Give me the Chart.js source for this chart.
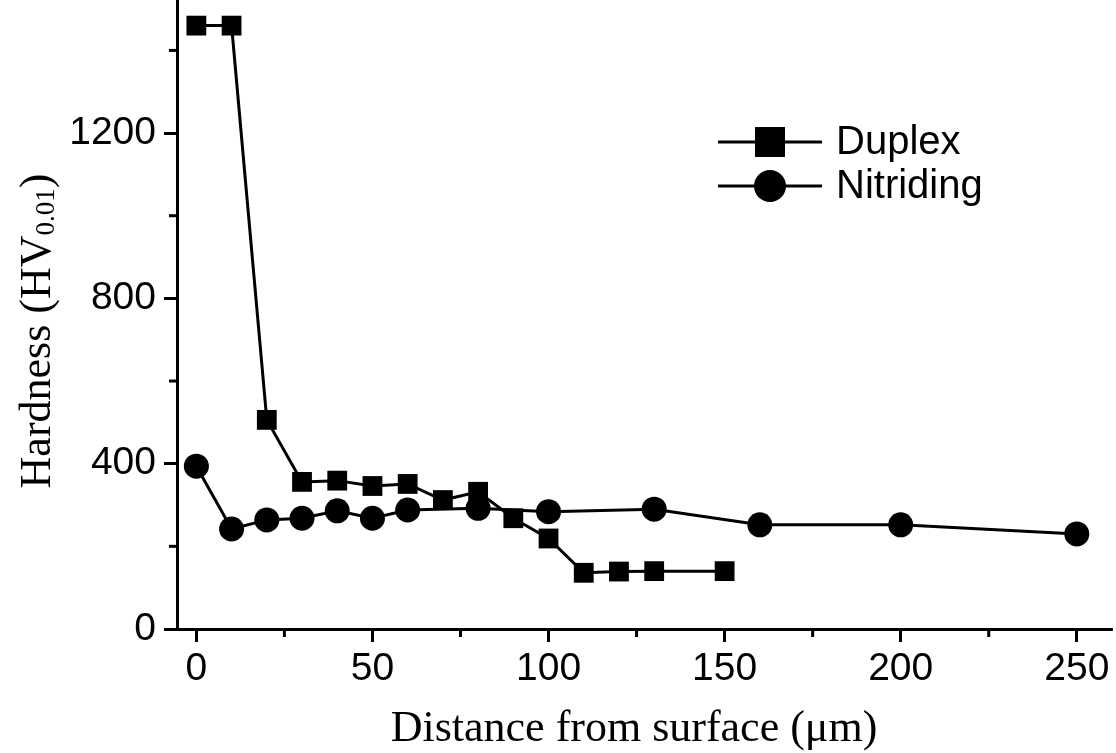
<!DOCTYPE html>
<html>
<head>
<meta charset="utf-8">
<script src="https://cdn.jsdelivr.net/npm/chart.js@4.4.1/dist/chart.umd.min.js"></script>
<style>
  html, body { margin: 0; padding: 0; background: #fff; }
  #wrap { width: 1116px; height: 753px; }
</style>
</head>
<body>
<div id="wrap"><canvas id="hardnessChart" width="1116" height="753"></canvas></div>
<script>
// values
const duplexX = [0, 10, 20, 30, 40, 50, 60, 70, 80, 90, 100, 110, 120, 130, 150];
const duplexHV = [1460, 1460, 506, 356, 359, 346, 351, 312, 332, 268, 219, 136, 139, 140, 140];
const nitridingX = [0, 10, 20, 30, 40, 50, 60, 80, 100, 130, 160, 200, 250];
const nitridingHV = [394, 242, 264, 268, 286, 268, 288, 292, 284, 290, 252, 252, 230];
const seriesNames = ['Duplex', 'Nitriding'];
const xTicks = [0, 50, 100, 150, 200, 250];
const yTicks = [0, 400, 800, 1200];
const xMinorTicks = [25, 75, 125, 175, 225];
const yMinorTicks = [200, 600, 1000, 1400];

const toPoints = (xs, ys) => xs.map((x, i) => ({ x: x, y: ys[i] }));

const SANS = '"Liberation Sans", Arial, sans-serif';
const SERIF = '"Liberation Serif", "Times New Roman", serif';

// minor ticks, axis titles and the legend are drawn by hand
const decorations = {
    id: 'decorations',
    afterDraw(chart) {
        const ctx = chart.ctx;
        const xs = chart.scales.x;
        const ys = chart.scales.y;
        const area = chart.chartArea;

        ctx.save();
        ctx.strokeStyle = '#000';
        ctx.lineWidth = 3;
        xMinorTicks.forEach(v => {
            const px = xs.getPixelForValue(v);
            ctx.beginPath();
            ctx.moveTo(px, area.bottom);
            ctx.lineTo(px, area.bottom + 8);
            ctx.stroke();
        });
        yMinorTicks.forEach(v => {
            const py = ys.getPixelForValue(v);
            ctx.beginPath();
            ctx.moveTo(area.left, py);
            ctx.lineTo(area.left - 8, py);
            ctx.stroke();
        });

        // x title
        ctx.fillStyle = '#000';
        ctx.font = '44px ' + SERIF;
        ctx.textAlign = 'center';
        ctx.textBaseline = 'alphabetic';
        ctx.fillText('Distance from surface (\u03bcm)', 634, 741);

        // y title with subscript
        ctx.save();
        ctx.translate(50, 331);
        ctx.rotate(-Math.PI / 2);
        const mainFont = '44px ' + SERIF;
        const subFont = '27px ' + SERIF;
        ctx.font = mainFont;
        const w1 = ctx.measureText('Hardness (HV').width;
        const w3 = ctx.measureText(')').width;
        ctx.font = subFont;
        const w2 = ctx.measureText('0.01').width;
        let sx = -(w1 + w2 + w3) / 2;
        ctx.textAlign = 'left';
        ctx.font = mainFont;
        ctx.fillText('Hardness (HV', sx, 0);
        sx += w1;
        ctx.font = subFont;
        ctx.fillText('0.01', sx, 4);
        sx += w2;
        ctx.font = mainFont;
        ctx.fillText(')', sx, 0);
        ctx.restore();

        // legend
        const legendY = [142, 186];
        chart.data.datasets.forEach((ds, i) => {
            const y = legendY[i];
            ctx.strokeStyle = '#000';
            ctx.lineWidth = 3;
            ctx.beginPath();
            ctx.moveTo(718, y);
            ctx.lineTo(822, y);
            ctx.stroke();
            ctx.fillStyle = '#000';
            if (ds.pointStyle === 'rect') {
                ctx.fillRect(770 - 15, y - 15, 30, 30);
            } else {
                ctx.beginPath();
                ctx.arc(770, y, 16, 0, Math.PI * 2);
                ctx.fill();
            }
            ctx.font = '40px ' + SANS;
            ctx.textAlign = 'left';
            ctx.textBaseline = 'middle';
            ctx.fillText(ds.label, 836, y + 1);
        });
        ctx.restore();
    }
};

const ctx = document.getElementById('hardnessChart').getContext('2d');
new Chart(ctx, {
    type: 'scatter',
    data: {
        datasets: [{
            label: seriesNames[0],
            data: toPoints(duplexX, duplexHV),
            showLine: true,
            borderColor: '#000',
            borderWidth: 3,
            backgroundColor: '#000',
            pointStyle: 'rect',
            pointRadius: 14,
            pointBorderWidth: 0,
            tension: 0
        }, {
            label: seriesNames[1],
            data: toPoints(nitridingX, nitridingHV),
            showLine: true,
            borderColor: '#000',
            borderWidth: 3,
            backgroundColor: '#000',
            pointStyle: 'circle',
            pointRadius: 12.5,
            pointBorderWidth: 0,
            tension: 0
        }]
    },
    options: {
        responsive: false,
        devicePixelRatio: 1,
        animation: false,
        layout: { autoPadding: false, padding: { top: 0, right: 4, bottom: 0, left: 0 } },
        plugins: {
            legend: { display: false },
            tooltip: { enabled: false }
        },
        scales: {
            x: {
                type: 'linear',
                min: -5.5,
                max: 260,
                afterBuildTicks: s => { s.ticks = xTicks.map(v => ({ value: v })); },
                afterFit: s => { s.height = 124; s.paddingLeft = 0; s.paddingRight = 0; },
                border: { display: true, color: '#000', width: 3 },
                grid: { drawOnChartArea: false, drawTicks: true, tickLength: 13, tickWidth: 3, tickColor: '#000' },
                ticks: {
                    color: '#000',
                    font: { family: SANS, size: 39 },
                    padding: 4,
                    maxRotation: 0,
                    callback: v => String(v)
                }
            },
            y: {
                type: 'linear',
                min: 0,
                max: 1522,
                afterBuildTicks: s => { s.ticks = yTicks.map(v => ({ value: v })); },
                afterFit: s => { s.width = 177; s.paddingTop = 0; s.paddingBottom = 0; },
                border: { display: true, color: '#000', width: 3 },
                grid: { drawOnChartArea: false, drawTicks: true, tickLength: 13, tickWidth: 3, tickColor: '#000' },
                ticks: {
                    color: '#000',
                    font: { family: SANS, size: 39 },
                    padding: 8,
                    callback: v => String(v)
                }
            }
        }
    },
    plugins: [decorations]
});
</script>
</body>
</html>
